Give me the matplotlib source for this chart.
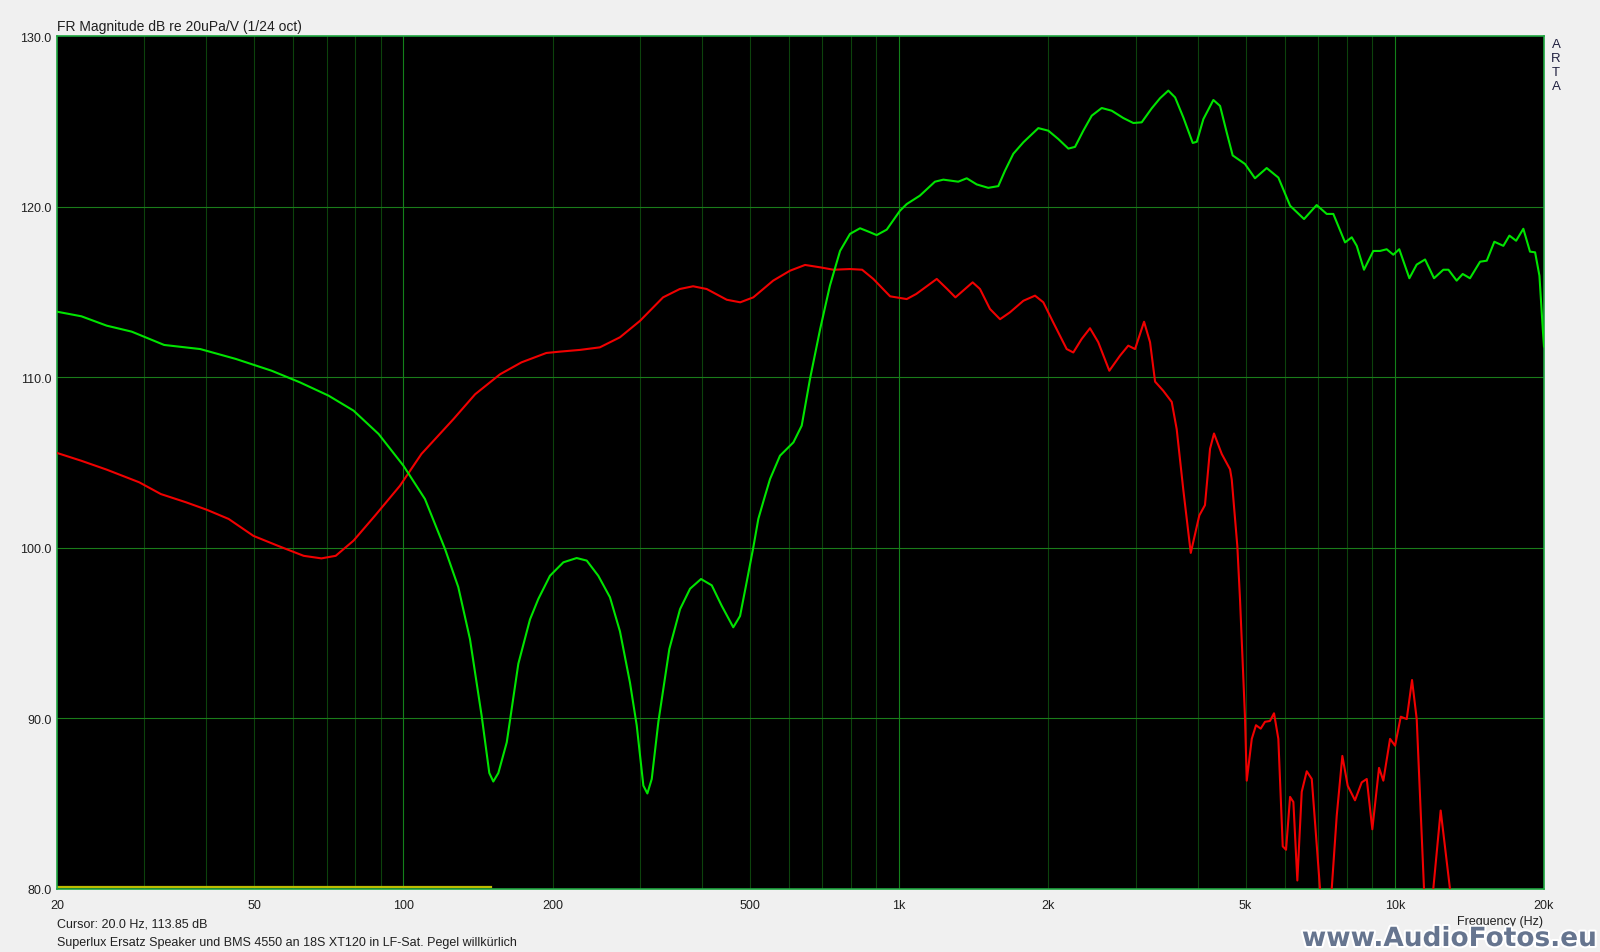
import matplotlib
matplotlib.use('Agg')
import matplotlib.pyplot as plt
import matplotlib.patheffects as pe

# Green curve (frequency in Hz, level in dB)
green_f = [20, 22.4, 25.2, 28.3, 32.9, 38.9, 45.9, 54.2, 61.8, 70.6, 79.3, 89.1, 100, 110.5,
           121.3, 129, 136.2, 143.8, 149, 151.8, 155.4, 161.6, 170.5, 180, 187.1, 197.5, 210.2,
           223.6, 234.3, 247.2, 261, 273.4, 286.4, 295.5, 304.8, 310.5, 316.9, 326.8, 343.9,
           361.4, 378.6, 398.4, 418.8, 438.6, 462.8, 477.6, 492.6, 508, 520, 534, 549, 575, 612,
           636, 661, 693, 725, 760, 796, 834, 873, 901, 944, 1004, 1036, 1101, 1181, 1228, 1316,
           1369, 1434, 1513, 1585, 1635, 1700, 1781, 1909, 2000, 2095, 2195, 2264, 2353, 2447,
           2563, 2685, 2834, 2968, 3086, 3233, 3360, 3492, 3604, 3744, 3912, 3986, 4110, 4305,
           4441, 4580, 4709, 4986, 5223, 5515, 5823, 6149, 6560, 6956, 7289, 7516, 7937, 8188,
           8380, 8667, 9050, 9337, 9630, 9931, 10210, 10700, 11070, 11510, 12000, 12530, 12830,
           13330, 13710, 14180, 14860, 15330, 15880, 16560, 17030, 17570, 18170, 18740, 19190,
           19580, 19890, 20000]
green_db = [113.84, 113.57, 113.02, 112.67, 111.89, 111.65, 111.07, 110.38, 109.7, 108.92, 108.04,
            106.67, 104.81, 102.86, 99.93, 97.7, 94.65, 90.15, 86.8, 86.3, 86.8, 88.6, 93.2, 95.8,
            97.0, 98.36, 99.15, 99.4, 99.25, 98.36, 97.1, 95.1, 92.1, 89.6, 86.06, 85.6, 86.45,
            89.8, 94.07, 96.4, 97.6, 98.17, 97.8, 96.6, 95.34, 96.0, 98.0, 100.03, 101.7, 102.86,
            104.03, 105.4, 106.18, 107.16, 109.9, 112.83, 115.36, 117.4, 118.4, 118.73, 118.5,
            118.33, 118.65, 119.76, 120.15, 120.64, 121.46, 121.58, 121.46, 121.66, 121.3, 121.1,
            121.2, 122.1, 123.1, 123.77, 124.6, 124.45, 123.96, 123.4, 123.5, 124.45, 125.33,
            125.78, 125.62, 125.19, 124.9, 124.94, 125.76, 126.35, 126.8, 126.4, 125.23, 123.73,
            123.8, 125.13, 126.25, 125.9, 124.35, 123.0, 122.5, 121.66, 122.26, 121.7, 120.05,
            119.27, 120.09, 119.57, 119.57, 117.9, 118.2, 117.7, 116.3, 117.4, 117.4, 117.5,
            117.18, 117.5, 115.8, 116.6, 116.9, 115.8, 116.3, 116.3, 115.66, 116.05, 115.8,
            116.77, 116.83, 117.94, 117.7, 118.3, 118.0, 118.7, 117.36, 117.32, 115.95, 112.8,
            111.8]

# Red curve
red_f = [20, 22.4, 25.2, 29.3, 32.4, 36.4, 40.1, 44.4, 49.8, 56, 62.9, 68.3, 73, 79.3, 87.6,
         98.4, 108.7, 126.2, 139.5, 156.6, 173, 194.2, 207, 227, 249, 273.4, 300, 334, 361, 384,
         409, 449, 478, 508, 557, 602, 646, 693, 737, 796, 842, 887, 959, 1036, 1083, 1191, 1250,
         1299, 1407, 1456, 1525, 1598, 1673, 1781, 1880, 1954, 2047, 2178, 2246, 2335, 2427,
         2522, 2655, 2790, 2899, 2992, 3120, 3208, 3284, 3412, 3548, 3631, 3744, 3876, 4033,
         4140, 4239, 4318, 4476, 4652, 4689, 4812, 4872, 4988, 5027, 5146, 5248, 5364, 5472,
         5600, 5706, 5822, 5942, 6034, 6148, 6243, 6359, 6490, 6643, 6800, 7066, 7250, 7460,
         7636, 7838, 8036, 8312, 8576, 8779, 9009, 9294, 9482, 9782, 10012, 10281, 10571, 10834,
         11072, 11454, 11700, 11958, 12376, 12923, 13500]
red_db = [105.56, 105.1, 104.58, 103.84, 103.15, 102.67, 102.23, 101.69, 100.7, 100.1, 99.53,
          99.38, 99.53, 100.42, 101.88, 103.64, 105.5, 107.55, 109.0, 110.17, 110.87, 111.42,
          111.5, 111.6, 111.75, 112.34, 113.3, 114.68, 115.17, 115.33, 115.17, 114.54, 114.39,
          114.68, 115.66, 116.24, 116.58, 116.44, 116.3, 116.34, 116.3, 115.76, 114.74, 114.58,
          114.88, 115.76, 115.17, 114.68, 115.56, 115.17, 114.0, 113.4, 113.8, 114.48, 114.78,
          114.39, 113.2, 111.65, 111.45, 112.24, 112.87, 112.05, 110.38, 111.26, 111.85, 111.65,
          113.25, 112.05, 109.74, 109.2, 108.55, 106.95, 103.4, 99.7, 101.9, 102.5, 105.8, 106.7,
          105.5, 104.6, 104.0, 100.1, 97.0, 89.96, 86.35, 88.8, 89.6, 89.4, 89.8, 89.85, 90.3,
          88.8, 82.5, 82.3, 85.4, 85.1, 80.5, 85.7, 86.9, 86.45, 80.0, 76.0, 80.0, 84.3, 87.8,
          86.05, 85.2, 86.25, 86.45, 83.5, 87.1, 86.35, 88.8, 88.4, 90.1, 89.96, 92.25, 89.96,
          80.0, 76.0, 80.0, 84.6, 80.0, 74.0]

# yellow trace at the bottom
yellow_f = [20, 150]
yellow_db = [80.12, 80.12]

x_ticks = [20, 50, 100, 200, 500, 1000, 2000, 5000, 10000, 20000]
x_labels = ['20', '50', '100', '200', '500', '1k', '2k', '5k', '10k', '20k']
y_ticks = [80, 90, 100, 110, 120, 130]

plt.rcParams['font.family'] = ['Liberation Sans', 'DejaVu Sans']

fig = plt.figure(figsize=(16, 9.53), dpi=100, facecolor='#f0f0f0')
ax = fig.add_axes([57/1600, 1 - 890/953, 1487/1600, 853/953])
ax.set_facecolor('black')

# grid lines
minor = [f * m for f in [10, 100, 1000] for m in range(2, 10)]
for f in minor:
    if f > 20:
        ax.axvline(f, color='#0c420c', lw=0.8, zorder=1)
for f in [100, 1000, 10000]:
    ax.axvline(f, color='#13801a', lw=0.8, zorder=1)
for v in y_ticks[1:-1]:
    ax.axhline(v, color='#1a7c1a', lw=0.8, zorder=1)

ax.plot(yellow_f, yellow_db, color='#bcbc00', lw=1.6, zorder=2)
ax.plot(red_f, red_db, color='#f00000', lw=1.5, zorder=3)
ax.plot(green_f, green_db, color='#00e400', lw=1.5, zorder=4)

ax.set_xscale('log')
ax.set_xlim(20, 20000)
ax.set_ylim(80, 130)
ax.set_xticks(x_ticks)
ax.set_xticklabels(x_labels)
ax.xaxis.set_minor_locator(matplotlib.ticker.NullLocator())
ax.set_yticks(y_ticks)
ax.set_yticklabels(['%.1f' % v for v in y_ticks])
ax.tick_params(axis='both', length=0, labelsize=9, colors='#202020')
ax.tick_params(axis='x', pad=7)
ax.tick_params(axis='y', pad=4)
for s in ax.spines.values():
    s.set_color('#1fa640')
    s.set_linewidth(1.2)

def fx(x):
    return x / 1600

def fy(y):
    return 1 - y / 953

fig.text(fx(57), fy(27.5), 'FR Magnitude dB re 20uPa/V (1/24 oct)', fontsize=10,
         va='center', ha='left', color='#202020')
fig.text(fx(57), fy(925), 'Cursor: 20.0 Hz, 113.85 dB', fontsize=9, va='center', color='#202020')
fig.text(fx(57), fy(943), 'Superlux Ersatz Speaker und BMS 4550 an 18S XT120 in LF-Sat. Pegel willkürlich',
         fontsize=9, va='center', color='#202020')
fig.text(fx(1543), fy(922), 'Frequency (Hz)', fontsize=9, va='center', ha='right', color='#202020')
for i, ch in enumerate('ARTA'):
    fig.text(fx(1556), fy(45 + i * 14), ch, fontsize=9.5, va='center', ha='center', color='#202040')

# watermark
fig.text(fx(1597), fy(947), 'www.AudioFotos.eu', fontsize=19, weight='bold', ha='right',
         va='baseline', color='#66758f', family='DejaVu Sans',
         path_effects=[pe.withStroke(linewidth=3, foreground='white')])

fig.savefig('out.png', dpi=100, facecolor=fig.get_facecolor())
